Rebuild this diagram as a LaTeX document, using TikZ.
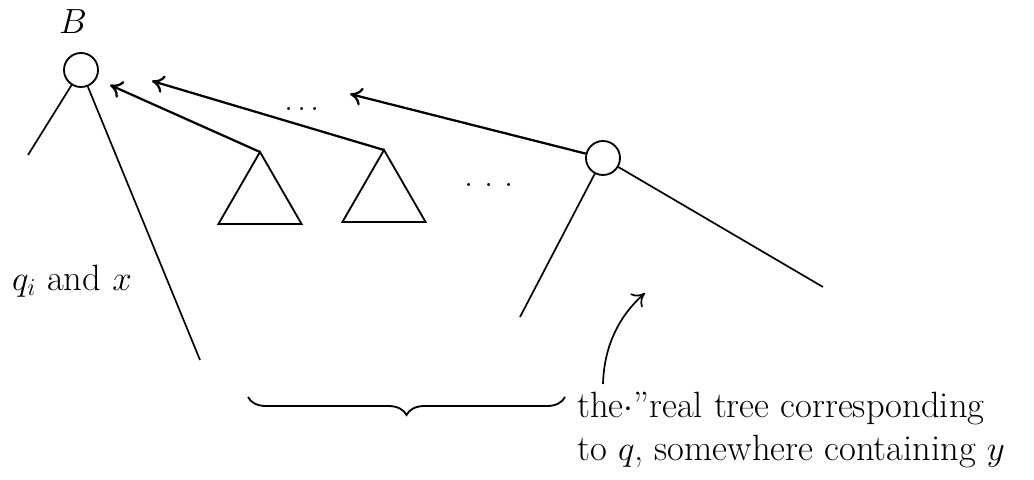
\documentclass[tikz,border=0pt]{standalone}
\usepackage{amsmath}
\usepackage{tikz}
\usetikzlibrary{shapes.geometric, arrows.meta, positioning, decorations.pathreplacing}

\begin{document}
\begin{tikzpicture}[
    x=0.025cm, y=-0.025cm,
    font=\fontsize{26}{31}\selectfont,
    vert/.style={draw, circle, line width=1.3pt, minimum size=0.85cm, inner sep=0pt},
    subtree/.style={draw, regular polygon, regular polygon sides=3, line width=1.3pt,
                    minimum size=2.4cm, inner sep=0pt, outer sep=0pt},
    edge/.style={line width=1.2pt},
    arr/.style={-{To[length=3mm,width=4.5mm]}, line width=1.6pt},
    dts/.style={inner sep=0pt}
]
\useasboundingbox (0,0) rectangle (1034,480);

\node[vert]    (rootB) at (81, 70)   {};
\node[above=0.45cm of rootB, xshift=-2mm, inner sep=0pt] (labB) {$B$};
\node[vert]    (vq)    at (603, 158) {};

\node[subtree] (tri1)  at (260, 200) {};
\node[subtree] (tri2)  at (384, 198) {};

\node[dts] (dotsA) at (302, 109) {.\hskip 3pt.\hskip 3pt.};
\node[dts] (dotsB) at (489, 185) {.\hskip 8pt.\hskip 8pt.};

% free ends of the tree edges
\coordinate (bl) at (28, 155);
\coordinate (br) at (200, 360);
\coordinate (ql) at (520, 317);
\coordinate (qr) at (823, 287);

\draw[edge] (rootB) -- (bl);
\draw[edge] (rootB) -- (br);
\draw[edge] (vq) -- (ql);
\draw[edge] (vq) -- (qr);

% pointers back to B
\coordinate (tip1) at (110, 85);
\coordinate (tip2) at (152, 81);
\coordinate (tip3) at (350, 94);
\draw[arr] (tri1.corner 1) -- (tip1);
\draw[arr] (tri2.corner 1) -- (tip2);
\draw[arr] (vq) -- (tip3);

\node[anchor=center] (qx) at (72, 281) {$q_i$ and $x$};

% brace under the subtrees
\coordinate (brL) at (248, 397);
\coordinate (brR) at (565, 397);
\draw[line width=1.3pt, decorate,
      decoration={brace, mirror, amplitude=4.5mm}] (brL) -- (brR);

\node[anchor=west, align=left, inner sep=0pt] (note) at (577, 430)
    {the$\cdot$''real tree corresponding\\to $q$, somewhere containing $y$};

\coordinate (c0) at (603, 384);
\coordinate (c1) at (645, 293);
\draw[arr, line width=1.2pt] (c0) .. controls (604, 345) and (620, 315) .. (c1);

\end{tikzpicture}
\end{document}
